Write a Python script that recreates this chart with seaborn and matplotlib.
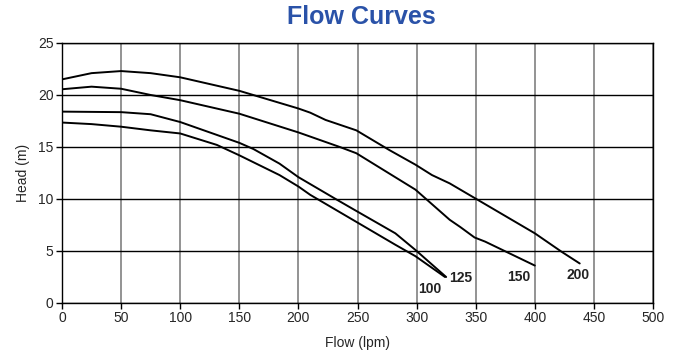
import pandas as pd
import seaborn as sns
import matplotlib.pyplot as plt

# pump curves, flow in lpm, head in m
flow_100 = [0, 25, 50, 75, 100, 131, 150, 184, 200, 210, 249, 282, 299, 324]
head_100 = [17.35, 17.2, 16.95, 16.6, 16.3, 15.2, 14.2, 12.3, 11.2, 10.4, 7.8, 5.6, 4.5, 2.5]

flow_125 = [0, 50, 75, 100, 150, 162, 184, 200, 233, 249, 282, 299, 325]
head_125 = [18.4, 18.35, 18.15, 17.4, 15.4, 14.8, 13.4, 12.1, 9.9, 8.85, 6.7, 5.1, 2.5]

flow_150 = [0, 25, 50, 75, 100, 150, 200, 235, 249, 299, 309, 328, 337, 349, 358, 400]
head_150 = [20.55, 20.8, 20.6, 20.0, 19.5, 18.2, 16.4, 15.0, 14.4, 10.9, 9.9, 8.0, 7.3, 6.3, 5.9, 3.6]

flow_200 = [0, 25, 50, 75, 100, 150, 200, 210, 223, 249, 277, 299, 313, 328, 349, 400, 423, 438]
head_200 = [21.5, 22.1, 22.3, 22.1, 21.7, 20.4, 18.7, 18.3, 17.6, 16.6, 14.7, 13.3, 12.3, 11.5, 10.1, 6.7, 4.9, 3.8]

models = ['100', '125', '150', '200']
# where each model name sits (flow, head)
label_flow = [311, 337, 386, 437]
label_head = [1.3, 2.4, 2.5, 2.7]

curves = pd.concat([
    pd.DataFrame({'Flow': flow_100, 'Head': head_100, 'Model': '100'}),
    pd.DataFrame({'Flow': flow_125, 'Head': head_125, 'Model': '125'}),
    pd.DataFrame({'Flow': flow_150, 'Head': head_150, 'Model': '150'}),
    pd.DataFrame({'Flow': flow_200, 'Head': head_200, 'Model': '200'}),
])

sns.set_style('white')
plt.rcParams['font.family'] = ['Liberation Sans', 'DejaVu Sans']

fig = plt.figure(figsize=(6.82, 3.57), dpi=100)
ax = fig.add_axes([0.0909, 0.1513, 0.8666, 0.7283])

sns.lineplot(data=curves, x='Flow', y='Head', hue='Model', units='Model',
             estimator=None, sort=False, palette=['black'] * 4,
             linewidth=1.4, legend=False, ax=ax)

for m, fx, fy in zip(models, label_flow, label_head):
    ax.text(fx, fy, m, ha='center', va='center', fontsize=10, fontweight='bold', color='#222222')

ax.set_xlim(0, 500)
ax.set_ylim(0, 25)
ax.set_xticks(range(0, 501, 50))
ax.set_yticks(range(0, 26, 5))
ax.xaxis.grid(True, color='#808080', linewidth=1.2)
ax.yaxis.grid(True, color='black', linewidth=1.0)
ax.set_axisbelow(True)
for s in ax.spines.values():
    s.set_color('black')
    s.set_linewidth(1.0)
ax.tick_params(axis='both', which='major', labelsize=10, length=4, width=1,
               direction='out', color='black', pad=2, bottom=True, left=True)

ax.set_xlabel('Flow (lpm)', fontsize=10, labelpad=8)
ax.set_ylabel('Head (m)', fontsize=10, labelpad=6)
fig.text(0.53, 0.952, 'Flow Curves', ha='center', va='center', fontsize=18,
         fontweight='bold', color='#2a52a8')

plt.savefig('out.png', dpi=100)
